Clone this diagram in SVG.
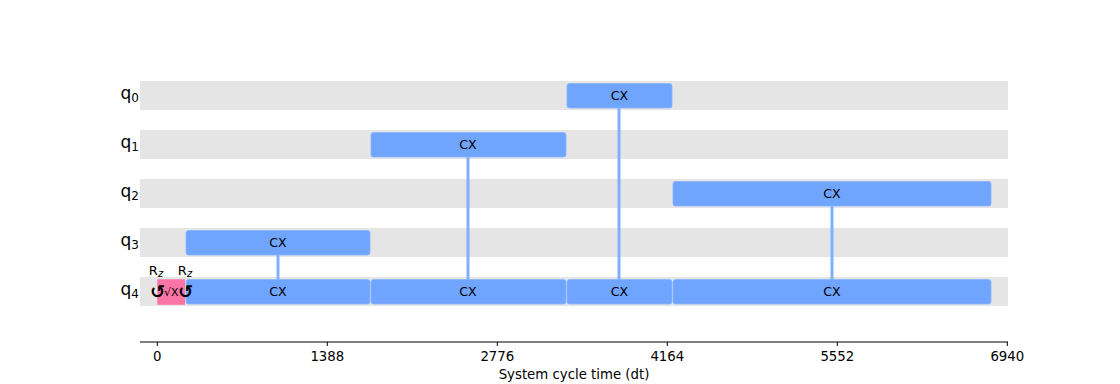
<svg xmlns="http://www.w3.org/2000/svg" width="1120" height="384" viewBox="0 0 1120 384">
<style>
.band{fill:#e5e5e5}
.cx{fill:#6fa4ff;stroke:#8ab5ff;stroke-width:0.8}
.sx{fill:#fa74a6}
.link{stroke:#7fb0ff;stroke-width:3}
.t{font-family:"DejaVu Sans",sans-serif;fill:#000}
.gl{font-size:12.5px;text-anchor:middle}
.ql{font-size:17px;text-anchor:end}
.tick{font-size:13.3px;text-anchor:middle}
.rot{font-size:18px;font-weight:bold;text-anchor:middle}
</style>
<rect width="1120" height="384" fill="#ffffff"/>
<g id="bands">
<rect class="band" x="140" y="81" width="868" height="29"/>
<rect class="band" x="140" y="130" width="868" height="29"/>
<rect class="band" x="140" y="179" width="868" height="29"/>
<rect class="band" x="140" y="228" width="868" height="29"/>
<rect class="band" x="140" y="277" width="868" height="29"/>
</g>
<g id="qubit-labels">
<text class="t ql" x="139" y="99">q<tspan font-size="12" dy="3">0</tspan></text>
<text class="t ql" x="139" y="148">q<tspan font-size="12" dy="3">1</tspan></text>
<text class="t ql" x="139" y="197">q<tspan font-size="12" dy="3">2</tspan></text>
<text class="t ql" x="139" y="246">q<tspan font-size="12" dy="3">3</tspan></text>
<text class="t ql" x="139" y="295">q<tspan font-size="12" dy="3">4</tspan></text>
</g>
<g id="connectors">
<line class="link" x1="278" y1="255" x2="278" y2="281"/>
<line class="link" x1="468" y1="157" x2="468" y2="281"/>
<line class="link" x1="619" y1="108" x2="619" y2="281"/>
<line class="link" x1="832" y1="206" x2="832" y2="281"/>
</g>
<g id="cx-q0">
<rect class="cx" x="567" y="83.5" width="105" height="24.5" rx="2.5"/>
<text class="t gl" x="619.5" y="100">CX</text>
</g>
<g id="cx-q1">
<rect class="cx" x="371" y="132.5" width="195" height="24.5" rx="2.5"/>
<text class="t gl" x="468" y="149">CX</text>
</g>
<g id="cx-q2">
<rect class="cx" x="673" y="181.5" width="318" height="24.5" rx="2.5"/>
<text class="t gl" x="832" y="198">CX</text>
</g>
<g id="cx-q3">
<rect class="cx" x="186" y="230.5" width="184" height="24.5" rx="2.5"/>
<text class="t gl" x="278" y="247">CX</text>
</g>
<g id="cx-q4-a">
<rect class="cx" x="186" y="279.5" width="184" height="24.5" rx="2.5"/>
<text class="t gl" x="278" y="296">CX</text>
</g>
<g id="cx-q4-b">
<rect class="cx" x="371" y="279.5" width="195" height="24.5" rx="2.5"/>
<text class="t gl" x="468" y="296">CX</text>
</g>
<g id="cx-q4-c">
<rect class="cx" x="567" y="279.5" width="105" height="24.5" rx="2.5"/>
<text class="t gl" x="619.5" y="296">CX</text>
</g>
<g id="cx-q4-d">
<rect class="cx" x="673" y="279.5" width="318" height="24.5" rx="2.5"/>
<text class="t gl" x="832" y="296">CX</text>
</g>
<g id="sx-q4">
<rect class="sx" x="157.3" y="279.3" width="27.7" height="25.5"/>
<text class="t" x="171.2" y="296" font-size="11" text-anchor="middle">√X</text>
</g>
<g id="rz-1">
<text class="t rot" x="157.5" y="298">↺</text>
<text class="t" x="156" y="275" font-size="13" text-anchor="middle">R<tspan font-size="10" font-style="italic" dy="2">z</tspan></text>
</g>
<g id="rz-2">
<text class="t rot" x="185.5" y="298">↺</text>
<text class="t" x="185" y="275" font-size="13" text-anchor="middle">R<tspan font-size="10" font-style="italic" dy="2">z</tspan></text>
</g>
<g id="axis">
<line x1="140" y1="342" x2="1008" y2="342" stroke="#000" stroke-width="1"/>
<g stroke="#000" stroke-width="1">
<line x1="157.3" y1="342" x2="157.3" y2="346"/>
<line x1="327.3" y1="342" x2="327.3" y2="346"/>
<line x1="497.3" y1="342" x2="497.3" y2="346"/>
<line x1="667.3" y1="342" x2="667.3" y2="346"/>
<line x1="837.3" y1="342" x2="837.3" y2="346"/>
<line x1="1007.3" y1="342" x2="1007.3" y2="346"/>
</g>
<text class="t tick" x="157.3" y="361">0</text>
<text class="t tick" x="327.3" y="361">1388</text>
<text class="t tick" x="497.3" y="361">2776</text>
<text class="t tick" x="667.3" y="361">4164</text>
<text class="t tick" x="837.3" y="361">5552</text>
<text class="t tick" x="1007.3" y="361">6940</text>
<text class="t tick" x="574" y="379">System cycle time (dt)</text>
</g>
</svg>
